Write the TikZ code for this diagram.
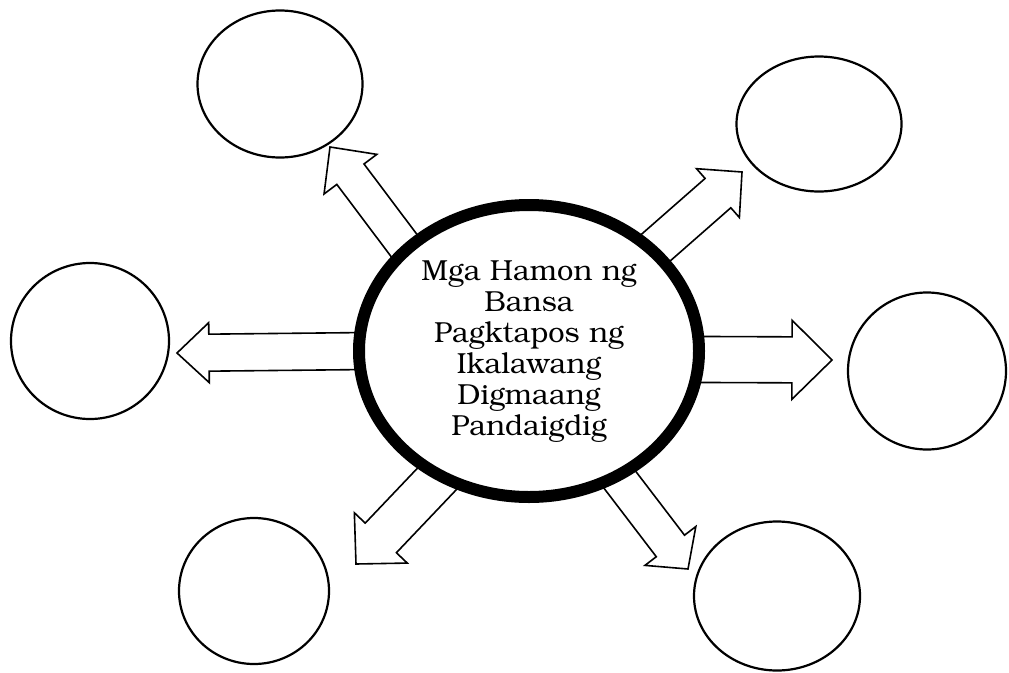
\documentclass[tikz,border=0pt]{standalone}
\usepackage[T1]{fontenc}
\usepackage{tikz}
\usetikzlibrary{calc, shapes.geometric}
\pgfdeclarelayer{bg}
\pgfsetlayers{bg,main}

% hollow block arrow: tail, tip, shaft half width, head half width, head length
\newcommand{\blockarrow}[5]{%
  \coordinate (base) at ($(#2)!#5!(#1)$);
  \path[arrowline] ($(#1)!#3!90:(#2)$) -- ($(base)!#3!90:(#2)$)
    -- ($(base)!#4!90:(#2)$) -- (#2) -- ($(base)!#4!-90:(#2)$)
    -- ($(base)!#3!-90:(#2)$) -- ($(#1)!#3!-90:(#2)$) -- cycle;
}

\begin{document}
\begin{tikzpicture}[x=1pt, y=-1pt,
    hubnode/.style={draw, ellipse, line width=12pt, fill=white, inner sep=0pt,
      minimum width=340pt, minimum height=292pt, align=center,
      font=\fontsize{29}{31}\fontfamily{pbk}\selectfont},
    blank/.style={draw, ellipse, line width=2.2pt, inner sep=0pt},
    arrowline/.style={draw, fill=white, line width=1.6pt, line join=miter}]

    \useasboundingbox (0,0) rectangle (1009,672);

    \node[hubnode] (hub) at (529,351)
      {Mga Hamon ng\\Bansa\\Pagktapos ng\\Ikalawang\\Digmaang\\Pandaigdig};

    \node[blank, minimum width=165pt, minimum height=147pt] (topleft) at (280,84) {};
    \node[blank, minimum width=165pt, minimum height=135pt] (topright) at (819,124) {};
    \node[blank, minimum width=158pt, minimum height=156pt] (left) at (90,341) {};
    \node[blank, minimum width=158pt, minimum height=157pt] (right) at (927,371) {};
    \node[blank, minimum width=150pt, minimum height=146pt] (botleft) at (254,591) {};
    \node[blank, minimum width=166pt, minimum height=149pt] (botright) at (777,596) {};

    % arrow ends
    \coordinate (tip-tl) at (330,147);
    \coordinate (tip-tr) at (742,172);
    \coordinate (tip-l) at (177,353);
    \coordinate (tip-r) at (832,360);
    \coordinate (tip-bl) at (356,564);
    \coordinate (tip-br) at (688,569);

    \begin{pgfonlayer}{bg}
      \blockarrow{$(hub.141.6)!15pt!(hub.center)$}{tip-tl}{17pt}{33pt}{34pt}
      \blockarrow{$(hub.39.1)!15pt!(hub.center)$}{tip-tr}{19.5pt}{32.5pt}{32pt}
      \blockarrow{$(hub.180)!15pt!(hub.center)$}{tip-l}{18.5pt}{30pt}{32pt}
      \blockarrow{$(hub.-3)!15pt!(hub.center)$}{tip-r}{23pt}{39.5pt}{40pt}
      \blockarrow{$(hub.235.6)!15pt!(hub.center)$}{tip-bl}{21.5pt}{36.5pt}{36pt}
      \blockarrow{$(hub.-55.4)!15pt!(hub.center)$}{tip-br}{17.75pt}{32pt}{29pt}
    \end{pgfonlayer}
  \end{tikzpicture}
\end{document}
